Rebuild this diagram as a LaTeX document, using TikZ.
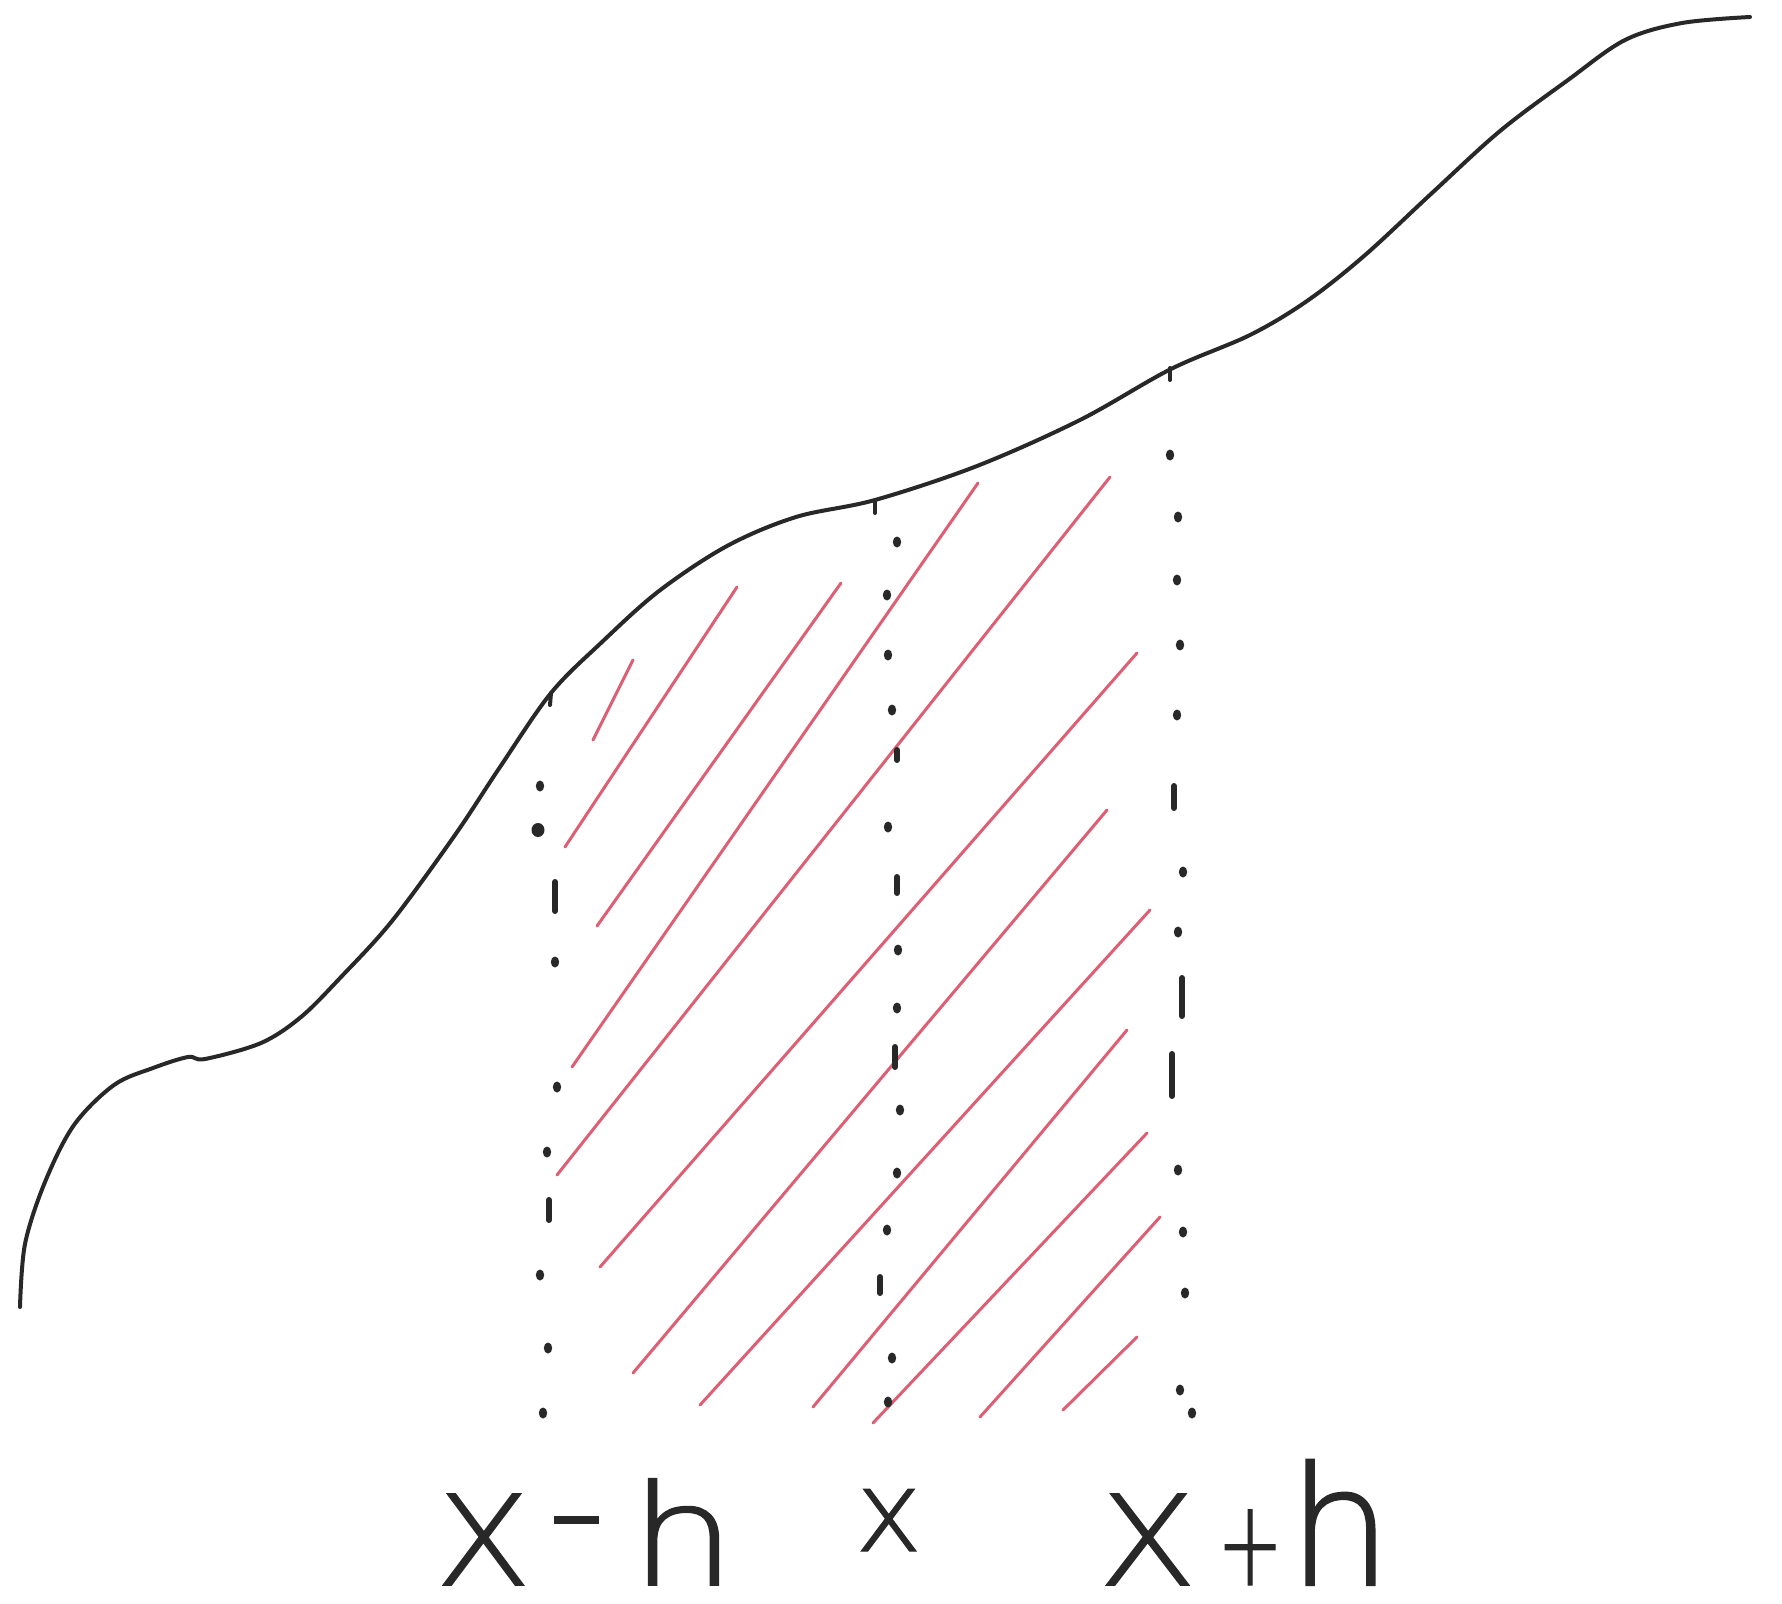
\documentclass[tikz,border=0pt]{standalone}
\usepackage{fontspec}
\newfontfamily\hand[FakeBold=1.2]{DejaVu Sans ExtraLight}
\definecolor{inkc}{RGB}{40,40,40}
\definecolor{redc}{RGB}{222,95,115}
\begin{document}
\begin{tikzpicture}[x=1pt,y=-1pt,
  curve/.style={draw=inkc, line width=4pt, line cap=round, line join=round},
  hatch/.style={draw=redc, line width=3pt, line cap=round},
  tickmark/.style={draw=inkc, line width=4pt, line cap=round},
  dashmark/.style={draw=inkc, line width=6pt, line cap=round},
  lbl/.style={text=inkc, inner sep=0pt, anchor=base west, text depth=0pt}]
\fill[white] (0,0) rectangle (1782,1603);
\useasboundingbox (0,0) rectangle (1782,1603);

% red hatching
\foreach \ax/\ay/\bx/\by in {
  593/740/633/660, 565/847/737/587, 597/926/841/583, 572/1067/978/483,
  557/1175/1110/477, 600/1267/1137/653, 633/1373/1107/810, 700/1405/1150/910,
  813/1407/1127/1030, 873/1423/1147/1133, 980/1417/1160/1217, 1063/1410/1137/1337}
  \draw[hatch] (\ax,\ay) -- (\bx,\by);

% the curve
\draw[curve] plot[smooth, tension=0.55] coordinates {
 (20,1307) (25,1244) (45,1182) (74,1125) (114,1085) (153,1068) (188,1057)
 (205,1059) (261,1043) (301,1017) (341,977) (392,921) (455,835) (500,767)
 (551,693) (602,642) (659,591) (727,546) (796,517) (875,500) (977,466)
 (1080,420) (1171,369) (1250,335) (1307,301) (1364,256) (1432,193)
 (1500,131) (1568,80) (1625,40) (1682,23) (1750,17)};

% tick marks on the curve
\coordinate (tl) at (551,693);
\coordinate (tm) at (875,501);
\coordinate (tr) at (1170,368);
\draw[tickmark] (tl) -- ++(-1,12);
\draw[tickmark] (tm) -- ++(0,12);
\draw[tickmark] (tr) -- ++(0,12);

% dotted verticals: dots
\foreach \px/\py in {
  540/786, 555/962, 557/1087, 547/1152, 540/1275, 548/1348, 543/1413,
  897/542, 887/595, 888/655, 892/710, 888/827, 898/950, 897/1008, 900/1110,
  897/1173, 887/1230, 892/1358, 888/1402,
  1170/455, 1178/517, 1177/580, 1180/645, 1177/715, 1183/872, 1178/932,
  1178/1170, 1183/1232, 1185/1293, 1180/1390, 1192/1413}
  \fill[inkc] (\px,\py) ellipse [x radius=4.2pt, y radius=5.5pt];
\fill[inkc] (538,830) ellipse [x radius=6.5pt, y radius=7pt];
% dotted verticals: short dashes
\foreach \px/\pa/\pb in {
  555/882/911, 549/1200/1220,
  897/750/760, 897/877/893, 895/1047/1067, 880/1277/1293,
  1174/786/808, 1182/978/1016, 1172/1054/1096}
  \draw[dashmark] (\px,\pa) -- (\px,\pb);

% labels
\node[lbl, font={\hand\fontsize{125pt}{125pt}\selectfont}] (lxmh) at (435,1585)
  {\scalebox{1.12}[1]{X}\hspace{16pt}\raisebox{24pt}{\scalebox{1.3}[1.2]{-}}\hspace{24pt}\scalebox{1.2}[1]{\fontsize{140pt}{140pt}\selectfont h}};
\node[lbl, font={\hand\fontsize{113pt}{113pt}\selectfont}] (lx) at (855,1551) {x};
\node[lbl, font={\hand\fontsize{125pt}{125pt}\selectfont}] (lxph) at (1098,1585)
  {\scalebox{1.15}[1]{X}\hspace{20pt}\raisebox{0pt}{\scalebox{1}[1.5]{\fontsize{80pt}{80pt}\selectfont +}}\hspace{4pt}{\fontsize{165pt}{165pt}\selectfont h}};
\end{tikzpicture}
\end{document}
